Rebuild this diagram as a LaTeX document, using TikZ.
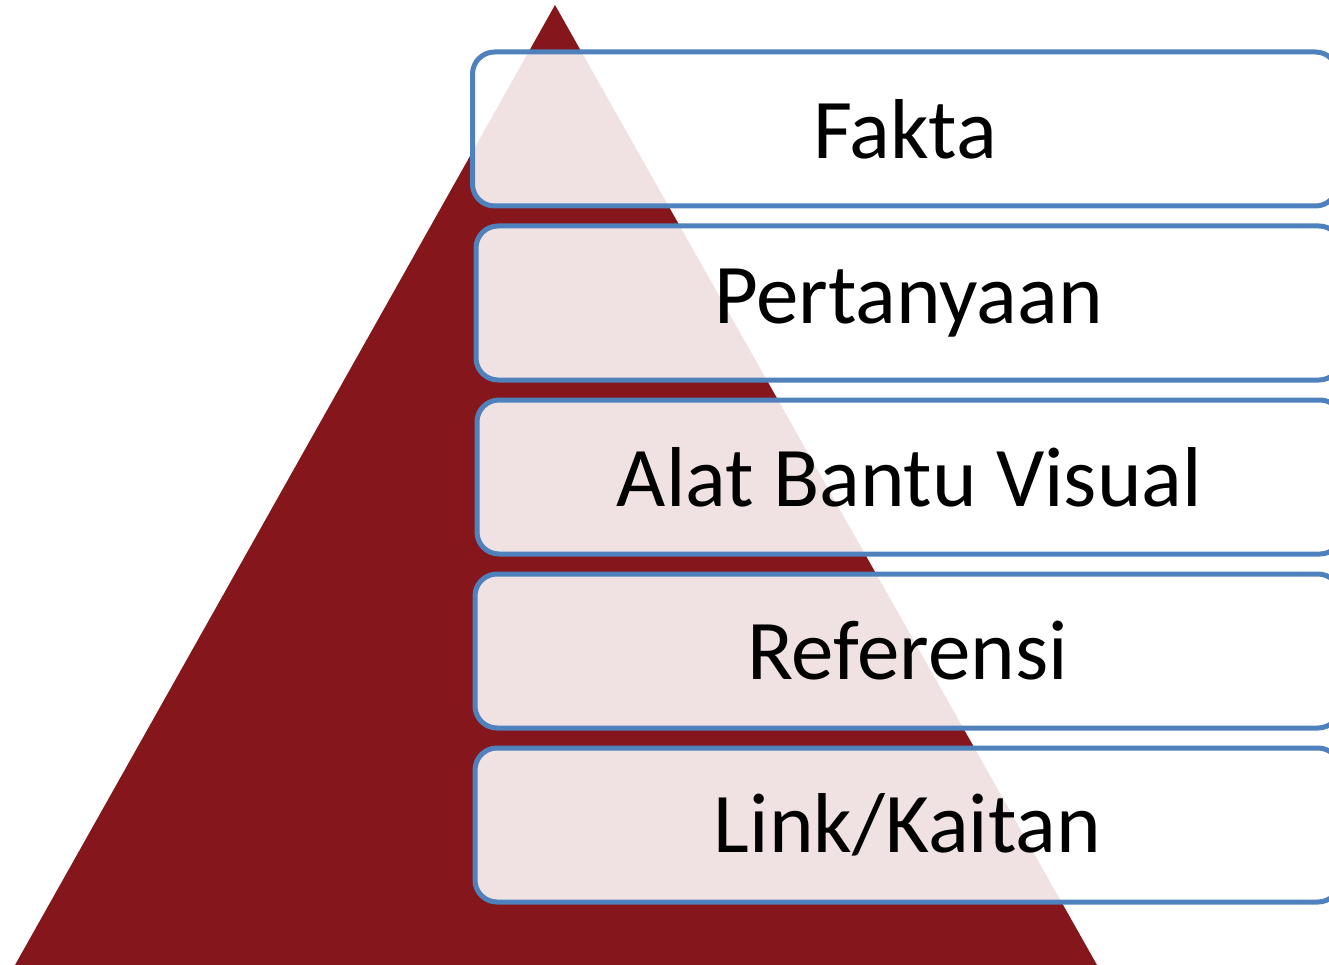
\documentclass[tikz,border=0pt]{standalone}
\usepackage{fontspec}
\setmainfont{Carlito}
\usepackage{tikz}
\usetikzlibrary{positioning}
\definecolor{pyramidred}{RGB}{132, 22, 28}
\definecolor{boxblue}{RGB}{79, 129, 189}

\begin{document}
\begin{tikzpicture}[
  x=1pt, y=-1pt,
  node distance=15pt,
  level/.style={rectangle, rounded corners=22pt, draw=boxblue, line width=5pt,
                fill=white, fill opacity=0.88, text opacity=1,
                minimum width=865pt, minimum height=154pt,
                font=\fontsize{85}{95}\selectfont}
]
  \useasboundingbox (0,0) rectangle (1329,965);
  % pyramid behind the levels
  \fill[pyramidred] (555,5) -- (1097,965) -- (15,965) -- cycle;

  \node[level] (fakta) at (905,129) {Fakta};
  \node[level, below=of fakta, xshift=3.5pt] (tanya) {Pertanyaan};
  \node[level, below=of tanya, xshift=1pt] (visual) {Alat Bantu Visual};
  \node[level, below=of visual, xshift=-2pt] (referensi) {Referensi};
  \node[level, below=of referensi] (link) {Link/Kaitan};
\end{tikzpicture}
\end{document}
